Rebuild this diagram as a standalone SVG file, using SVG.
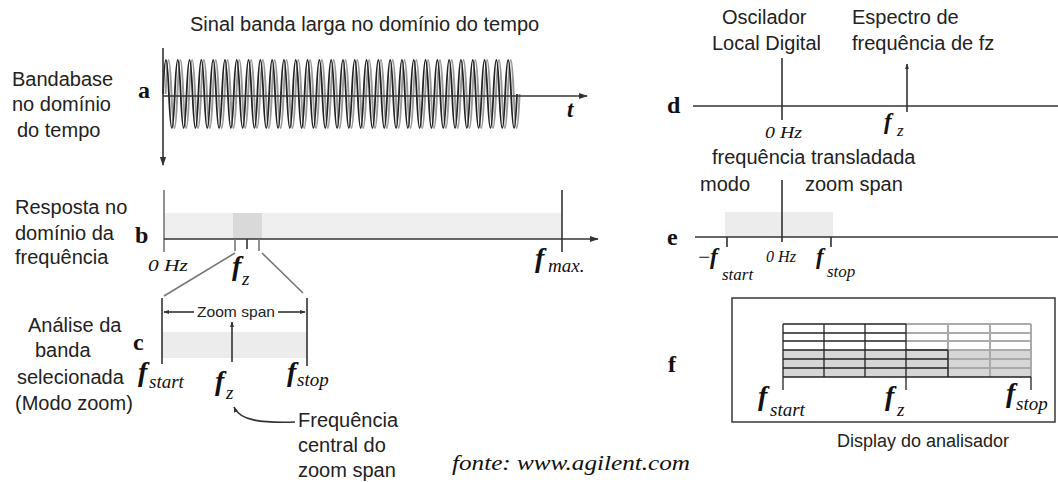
<svg xmlns="http://www.w3.org/2000/svg" xmlns:xlink="http://www.w3.org/1999/xlink" width="1058" height="482" viewBox="0 0 1058 482">
<style>
.s{font-family:"Liberation Sans",Arial,sans-serif;font-size:20px;fill:#222}
.zs{font-family:"Liberation Sans",Arial,sans-serif;font-size:15px;fill:#222}
.lbl{font-family:"Liberation Serif","Times New Roman",serif;font-weight:bold;font-size:24px;fill:#111}
.hz{font-family:"Liberation Serif","Times New Roman",serif;font-style:italic;font-size:17px;fill:#111}
.f{font-family:"Liberation Serif","Times New Roman",serif;font-style:italic;font-weight:bold;font-size:28px;fill:#111}
.fs{font-family:"Liberation Serif","Times New Roman",serif;font-style:italic;font-weight:bold;font-size:23px;fill:#111}
.sub{font-family:"Liberation Serif","Times New Roman",serif;font-style:italic;font-size:19px;fill:#111}
.subs{font-family:"Liberation Serif","Times New Roman",serif;font-style:italic;font-size:17px;fill:#111}
.src{font-family:"Liberation Serif","Times New Roman",serif;font-style:italic;font-size:21px;fill:#111}
.ax{stroke:#333;stroke-width:1.6;fill:none}
.gl{stroke:#777;stroke-width:1.6;fill:none}
.dk{stroke:#222;stroke-width:1.3;fill:none}
.fd{stroke:#aaa;stroke-width:2;fill:none}
</style>
<defs>
<marker id="ah" viewBox="0 0 10 10" refX="9" refY="5" markerWidth="9" markerHeight="9" markerUnits="userSpaceOnUse" orient="auto-start-reverse"><path d="M0,1.5 L10,5 L0,8.5 z" fill="#333"/></marker>
<marker id="ahs" viewBox="0 0 10 10" refX="9" refY="5" markerWidth="6" markerHeight="6" markerUnits="userSpaceOnUse" orient="auto-start-reverse"><path d="M0,1.5 L10,5 L0,8.5 z" fill="#333"/></marker>
<path id="wave" d="M163,94 q2.95,-68 5.9,0
t5.9,0 t5.9,0 t5.9,0 t5.9,0 t5.9,0 t5.9,0 t5.9,0 t5.9,0 t5.9,0 t5.9,0
t5.9,0 t5.9,0 t5.9,0 t5.9,0 t5.9,0 t5.9,0 t5.9,0 t5.9,0 t5.9,0 t5.9,0
t5.9,0 t5.9,0 t5.9,0 t5.9,0 t5.9,0 t5.9,0 t5.9,0 t5.9,0 t5.9,0 t5.9,0
t5.9,0 t5.9,0 t5.9,0 t5.9,0 t5.9,0 t5.9,0 t5.9,0 t5.9,0 t5.9,0 t5.9,0
t5.9,0 t5.9,0 t5.9,0 t5.9,0 t5.9,0 t5.9,0 t5.9,0 t5.9,0 t5.9,0 t5.9,0
t5.9,0 t5.9,0 t5.9,0 t5.9,0 t5.9,0 t5.9,0 t5.9,0 t5.9,0 t5.9,0"/>
</defs>
<rect width="1058" height="482" fill="#fff"/>

<g id="panel-a">
<text class="s" x="190" y="31">Sinal banda larga no domínio do tempo</text>
<text class="s" x="12" y="86">Bandabase</text>
<text class="s" x="12" y="111">no domínio</text>
<text class="s" x="17" y="137">do tempo</text>
<text class="lbl" x="138" y="98">a</text>
<use xlink:href="#wave" href="#wave" transform="translate(2.6,0)" stroke="#999" stroke-width="2" fill="none"/>
<use xlink:href="#wave" href="#wave" stroke="#222" stroke-width="1.8" fill="none"/>
<text class="fs" x="567" y="117">t</text>
</g>

<g id="panel-b">
<rect x="164" y="213" width="398" height="26" fill="#efefef"/>
<rect x="233" y="213" width="29" height="26" fill="#d9d9d9"/>
<text class="s" x="15" y="214">Resposta no</text>
<text class="s" x="15" y="240">domínio da</text>
<text class="s" x="15" y="264">frequência</text>
<text class="lbl" x="135" y="243">b</text>
<text class="hz" x="148" y="271" textLength="40" lengthAdjust="spacingAndGlyphs">0 Hz</text>
<text class="f" x="232" y="275">f</text>
<text class="sub" x="242" y="285">z</text>
<text class="f" x="535" y="267">f</text>
<text class="sub" x="548" y="272">max.</text>
</g>

<g id="panel-c">
<rect x="162" y="332" width="145" height="26" fill="#ececec"/>
<text class="s" x="28" y="332">Análise da</text>
<text class="s" x="35" y="357">banda</text>
<text class="s" x="17" y="384">selecionada</text>
<text class="s" x="15" y="410">(Modo zoom)</text>
<text class="lbl" x="133" y="350">c</text>
<text class="zs" x="197" y="317" textLength="78" lengthAdjust="spacingAndGlyphs">Zoom span</text>
<text class="f" x="138" y="381">f</text>
<text class="sub" x="149" y="388">start</text>
<text class="f" x="215" y="390">f</text>
<text class="sub" x="226" y="399">z</text>
<text class="f" x="287" y="381">f</text>
<text class="sub" x="297" y="386">stop</text>
<text class="s" x="298" y="427">Frequência</text>
<text class="s" x="298" y="452">central do</text>
<text class="s" x="298" y="477">zoom span</text>
</g>

<g id="panel-d">
<text class="s" x="722" y="24">Oscilador</text>
<text class="s" x="712" y="50">Local Digital</text>
<text class="s" x="852" y="24">Espectro de</text>
<text class="s" x="852" y="50">frequência de fz</text>
<text class="lbl" x="667" y="113">d</text>
<text class="hz" x="765" y="138" textLength="37" lengthAdjust="spacingAndGlyphs">0 Hz</text>
<text class="fs" x="884" y="129">f</text>
<text class="subs" x="897" y="136">z</text>
<text class="s" x="712" y="164">frequência transladada</text>
</g>

<g id="panel-e">
<rect x="725" y="212" width="108" height="25" fill="#ececec"/>
<text class="s" x="700" y="191">modo</text>
<text class="s" x="805" y="191">zoom span</text>
<text class="lbl" x="667" y="245">e</text>
<text class="src" x="697" y="264">−</text>
<text class="fs" x="710" y="264">f</text>
<text class="subs" x="722" y="280">start</text>
<text class="hz" x="766" y="262" textLength="30" lengthAdjust="spacingAndGlyphs">0 Hz</text>
<text class="fs" x="816" y="264">f</text>
<text class="subs" x="827" y="277">stop</text>
</g>

<g id="panel-f">
<text class="lbl" x="668" y="372">f</text>
<rect x="732" y="298" width="323" height="124" fill="none" stroke="#444" stroke-width="1.6"/>
<rect x="783" y="350" width="248" height="27" fill="#d6d6d6"/>
<path class="fd" d="M906,324H1031M906,333H1031M906,341H1031M906,350H1031M948,359H1031M948,368H1031M948,324V377M990,324V377M1031,324V377"/>
<path class="dk" d="M783,324H906M783,333H906M783,341H906M783,350H948M783,359H948M783,368H948M783,324V377M824,324V377M865,324V377M906,324V377M948,350V377"/>
<path class="dk" d="M783,377H1031M783,377V390M906,377V390M1031,377V390" stroke-width="1.5"/>
<text class="f" x="758" y="405">f</text>
<text class="sub" x="770" y="416">start</text>
<text class="f" x="885" y="405">f</text>
<text class="sub" x="897" y="416">z</text>
<text class="f" x="1006" y="402">f</text>
<text class="sub" x="1016" y="410">stop</text>
<text class="s" x="837" y="447" style="font-size:18px">Display do analisador</text>
</g>

<g id="source">
<text class="src" x="452" y="470" textLength="238" lengthAdjust="spacingAndGlyphs">fonte: www.agilent.com</text>
</g>

<g id="connectors">
<path class="ax" d="M163,48V165" marker-end="url(#ah)"/>
<path class="ax" d="M163,96H587" marker-end="url(#ah)"/>
<path class="gl" d="M164,190V252"/>
<path class="ax" d="M164,239H598" marker-end="url(#ah)"/>
<path class="ax" d="M562,190V252"/>
<path class="gl" d="M235,239V251M259,239V251"/>
<path class="ax" d="M247,239V249"/>
<path class="gl" d="M235,253L164,296M262,253L303,293" stroke-width="1.3"/>
<path class="ax" d="M162,298V364M307,298V366"/>
<path class="ax" d="M164,312H194" marker-start="url(#ahs)" stroke-width="1.2"/>
<path class="ax" d="M278,312H305" marker-end="url(#ahs)" stroke-width="1.2"/>
<path class="ax" d="M232,362V322" marker-end="url(#ahs)" stroke-width="1.4"/>
<path class="ax" d="M295,422C262,423 240,421 234,407" marker-end="url(#ahs)" stroke="#555" stroke-width="1.4"/>
<path class="ax" d="M693,106H1058"/>
<path class="ax" d="M782,58V120"/>
<path class="ax" d="M907,112V64" marker-end="url(#ahs)" stroke-width="1.4"/>
<path class="ax" d="M695,237H1058"/>
<path class="ax" d="M782,180V242"/>
<path class="ax" d="M727,237V247M831,237V247"/>
</g>
</svg>
